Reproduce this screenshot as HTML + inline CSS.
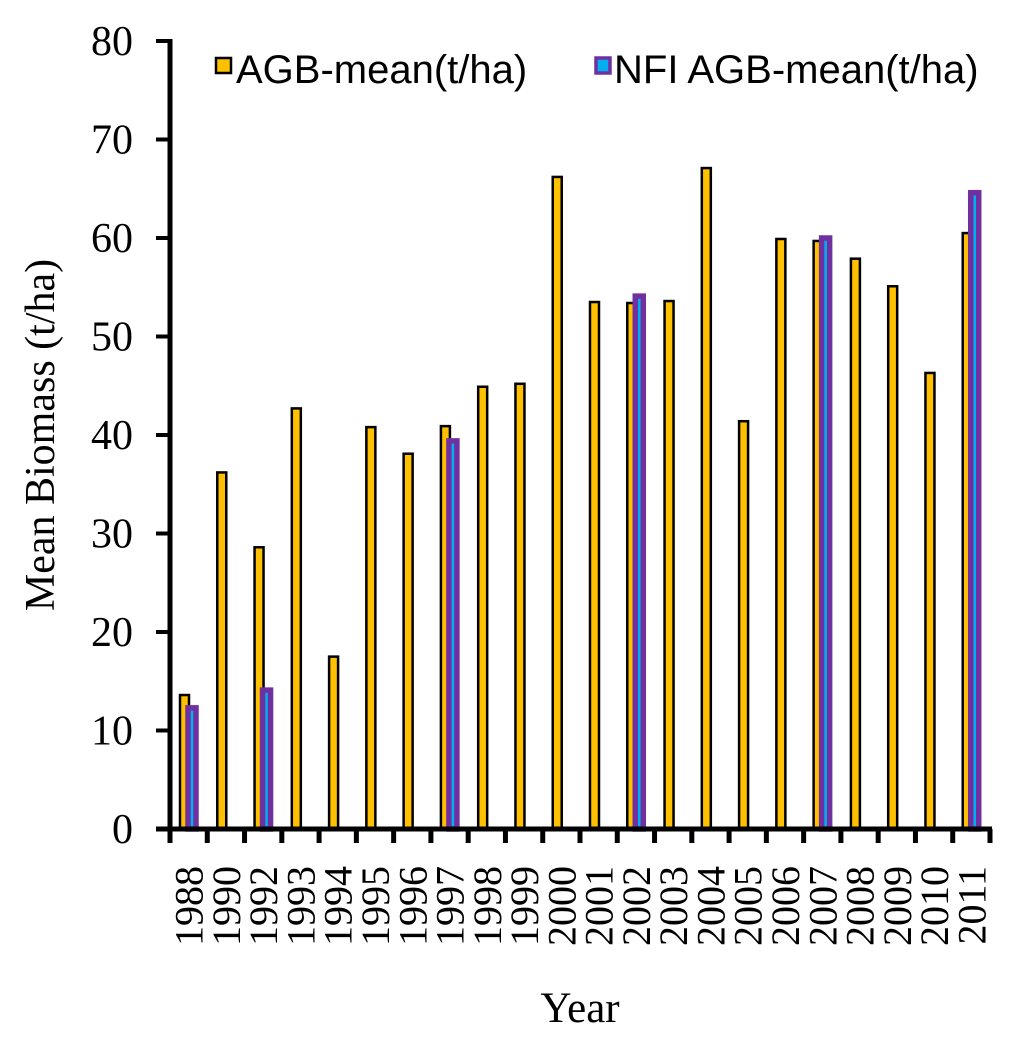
<!DOCTYPE html>
<html><head><meta charset="utf-8"><style>
html,body{margin:0;padding:0;background:#fff;}
svg{display:block;}
.serif{font-family:"Liberation Serif",serif;}
.sans{font-family:"Liberation Sans",sans-serif;}
</style></head>
<body>
<svg id="chart" width="1024" height="1048" viewBox="0 0 1024 1048" xmlns="http://www.w3.org/2000/svg">
<g id="plot"></g>
<text class="serif" x="0" y="0" font-size="42" text-anchor="middle" transform="translate(54,435) rotate(-90)">Mean Biomass (t/ha)</text>
<text class="serif" x="580" y="1022" font-size="43" text-anchor="middle">Year</text>
<g>
<g>
<rect x="216" y="58" width="15" height="15" fill="#FFC000" stroke="#000" stroke-width="2.5"/>
<text class="sans" x="236" y="83" font-size="40">AGB-mean(t/ha)</text>
</g>
<g>
<rect x="596" y="58" width="14" height="15" fill="#00B0F0" stroke="#7030A0" stroke-width="3.5"/>
<text class="sans" x="614" y="83" font-size="40">NFI AGB-mean(t/ha)</text>
</g>
</g>
</svg>
<script>
const categories = ["1988","1990","1992","1993","1994","1995","1996","1997","1998","1999","2000","2001","2002","2003","2004","2005","2006","2007","2008","2009","2010","2011"];
const agbValues = [13.6,36.2,28.6,42.7,17.5,40.8,38.1,40.9,44.9,45.2,66.2,53.5,53.4,53.6,67.1,41.4,59.9,59.7,57.9,55.1,46.3,60.5];
const nfiValues = [12.3,null,14.1,null,null,null,null,39.4,null,null,null,null,54.1,null,null,null,null,60.0,null,null,null,64.6];
const yTicks = [0,10,20,30,40,50,60,70,80];

const NS = "http://www.w3.org/2000/svg";
const plot = document.getElementById('plot');
const x0 = 170, x1 = 990, y0 = 829, yTop = 41, yMax = 80;
const band = (x1 - x0) / categories.length;
function xScale(i){ return x0 + i * band; }
function yScale(v){ return y0 - (v / yMax) * (y0 - yTop); }
function mk(tag, attrs){ const e = document.createElementNS(NS, tag); for (const k in attrs) e.setAttribute(k, attrs[k]); plot.appendChild(e); return e; }

categories.forEach((c, i) => {
  const bx = xScale(i);
  const a = agbValues[i];
  if (a != null) {
    const r = mk('rect', {x: bx + 10, y: yScale(a), width: 9, height: y0 - yScale(a), fill: '#FFC000', stroke: '#000', 'stroke-width': 2.5});
    
    
  }
  const n = nfiValues[i];
  if (n != null) {
    const r = mk('rect', {x: bx + 18, y: yScale(n), width: 8, height: y0 - yScale(n), fill: '#00B0F0', stroke: '#7030A0', 'stroke-width': 5.5});
    
    
  }
  const t = mk('text', {class: 'serif', 'font-size': 40, 'text-anchor': 'end', transform: 'translate(' + (bx + band / 2 + 14) + ',866) rotate(-90)'});
  t.textContent = c;
  
  
});
for (let i = 0; i <= categories.length; i++) {
  const tk = mk('line', {x1: xScale(i), x2: xScale(i), y1: y0, y2: y0 + 14, stroke: '#000', 'stroke-width': 5});
  
  
}
yTicks.forEach(v => {
  const tk = mk('line', {x1: 156, x2: x0, y1: yScale(v), y2: yScale(v), stroke: '#000', 'stroke-width': 4});
  
  
  const t = mk('text', {class: 'serif', x: 133, y: yScale(v) + 14, 'font-size': 42, 'text-anchor': 'end'});
  t.textContent = v;
  
  
});
const ya = mk('line', {x1: x0, x2: x0, y1: yTop - 2, y2: y0 + 2, stroke: '#000', 'stroke-width': 5});


const xa = mk('line', {x1: 156, x2: x1 + 2, y1: y0, y2: y0, stroke: '#000', 'stroke-width': 5});


</script>
</body></html>
